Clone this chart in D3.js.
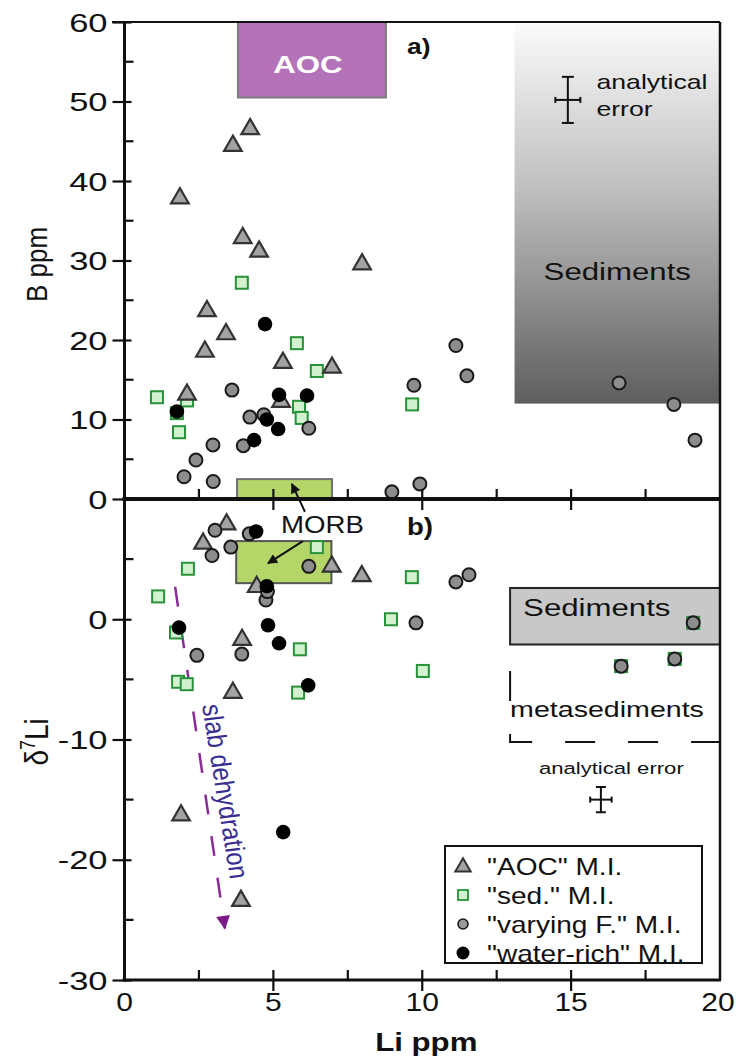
<!DOCTYPE html>
<html>
<head>
<meta charset="utf-8">
<script src="https://cdn.jsdelivr.net/npm/d3@7"></script>
<style>
  body { margin: 0; background: #fff; }
  svg { display: block; font-family: "Liberation Sans", Arial, sans-serif; }
</style>
</head>
<body>
<svg id="chart"></svg>
<script>
// Li vs B (a) and Li vs d7Li (b) for melt inclusions

// panel a: [Li ppm, B ppm]
const aocB = [[4.22,46.7],[3.64,44.6],[1.86,38.0],[3.97,33.0],[4.52,31.3],[7.98,29.7],[2.77,23.8],
  [3.41,20.9],[2.70,18.7],[5.32,17.3],[6.97,16.7],[2.10,13.3],[5.26,12.4]];
const sedB = [[3.94,27.2],[5.79,19.6],[6.46,16.1],[1.09,12.8],[2.10,12.4],[1.76,10.8],[1.83,8.4],
  [5.86,11.6],[5.95,10.2],[9.66,11.9]];
const varB = [[3.61,13.7],[4.21,10.3],[4.68,10.6],[6.19,8.9],[2.97,6.8],[3.99,6.7],[2.40,4.9],
  [2.00,2.8],[2.98,2.2],[11.13,19.3],[11.50,15.5],[9.72,14.3],[16.61,14.6],[18.45,11.9],
  [19.16,7.4],[8.98,0.9],[9.92,1.9]];
const waterB = [[4.72,22.0],[5.19,13.1],[6.13,13.0],[1.76,11.0],[4.78,10.0],[5.16,8.8],[4.35,7.4]];

// panel b: [Li ppm, d7Li]
const aocD = [[3.43,8.0],[2.64,6.4],[6.96,4.5],[4.44,2.8],[3.95,-1.6],[3.64,-6.0],[7.97,3.7],
  [1.90,-16.2],[3.91,-23.3]];
const sedD = [[6.46,6.0],[2.13,4.2],[1.13,1.9],[1.73,-1.1],[5.89,-2.5],[1.80,-5.2],[2.09,-5.4],
  [5.83,-6.1],[9.65,3.5],[8.95,0.0],[10.02,-4.3],[18.48,-3.3],[19.10,-0.3],[16.68,-3.9]];
const varD = [[3.04,7.4],[2.94,5.3],[3.57,6.0],[4.19,7.1],[6.19,4.4],[4.75,1.6],[4.80,2.3],
  [2.43,-3.0],[3.94,-2.9],[11.13,3.1],[11.57,3.7],[9.79,-0.3],[16.68,-3.9],[18.48,-3.3],[19.10,-0.3]];
const waterD = [[4.42,7.3],[4.78,2.75],[1.83,-0.7],[4.82,-0.5],[5.19,-2.0],[6.17,-5.5],[5.33,-17.7]];

// reference fields: [Li min, Li max, y min, y max]
const aocField = [3.81, 8.78, 50.5, 60];
const sedFieldB = [13.1, 20, 12, 60];
const morbFieldB = [3.78, 6.97, 0, 2.5];
const morbFieldD = [3.75, 6.95, 3, 6.5];
const sedFieldD = [12.95, 20, -2.1, 2.6];
const metaSedD = [12.95, 20, -10.2, -4.3];

// slab dehydration trend [Li, d7Li]
const slabTrend = [[1.70, 2.7], [3.37, -25.7]];

// analytical error: [Li, y, dLi, dy]
const errB = [14.89, 50.2, 0.42, 2.9];
const errD = [16.0, -15.0, 0.36, 1.05];

const xTicks = [0, 5, 10, 15, 20];
const xMinor = [2.5, 7.5, 12.5, 17.5];
const bTicks = [0, 10, 20, 30, 40, 50, 60];
const bMinor = [5, 15, 25, 35, 45, 55];
const dTicks = [-30, -20, -10, 0];
const dMinor = [-25, -15, -5, 5];
const legendLabels = ['"AOC" M.I.', '"sed." M.I.', '"varying F." M.I.', '"water-rich" M.I.'];

const width = 736, height = 1061;
const SX = 1.3; // the figure's lettering is wider than the fonts we have

const svg = d3.select('#chart').attr('width', width).attr('height', height);

const x = d3.scaleLinear().domain([0, 20]).range([124.5, 720]);
const yB = d3.scaleLinear().domain([0, 60]).range([499, 22]);
const yD = d3.scaleLinear().domain([-30, 10]).range([980, 499]);

function label(g, px, py, s, size, o = {}) {
  return g.append('text')
    .attr('transform', `translate(${px},${py}) scale(${o.sx || SX},1)` + (o.rot ? ` rotate(${o.rot})` : ''))
    .attr('text-anchor', o.anchor || 'start')
    .style('font-size', size + 'px')
    .style('font-weight', o.bold ? 'bold' : 'normal')
    .style('fill', o.fill || '#111')
    .text(s);
}

const defs = svg.append('defs');
const grad = defs.append('linearGradient').attr('id', 'sedGrad')
  .attr('x1', 0).attr('y1', 0).attr('x2', 0).attr('y2', 1);
grad.append('stop').attr('offset', '0%').attr('stop-color', '#fbfbfb');
grad.append('stop').attr('offset', '45%').attr('stop-color', '#bdbdbd');
grad.append('stop').attr('offset', '100%').attr('stop-color', '#5e5e5e');

defs.append('marker').attr('id', 'arrowBlack')
  .attr('viewBox', '0 0 10 10').attr('refX', 9).attr('refY', 5)
  .attr('markerWidth', 6).attr('markerHeight', 5).attr('orient', 'auto')
  .attr('markerUnits', 'strokeWidth')
  .append('path').attr('d', 'M0,0 L10,5 L0,10 Z').attr('fill', '#111');

defs.append('marker').attr('id', 'arrowPurple')
  .attr('viewBox', '0 0 10 10').attr('refX', 9).attr('refY', 5)
  .attr('markerWidth', 6).attr('markerHeight', 5.5).attr('orient', 'auto')
  .attr('markerUnits', 'strokeWidth')
  .append('path').attr('d', 'M0,0 L10,5 L0,10 Z').attr('fill', '#7b1a86');

function field(g, f, yS, fill, stroke) {
  return g.append('rect')
    .attr('x', x(f[0])).attr('y', yS(f[3]))
    .attr('width', x(f[1]) - x(f[0])).attr('height', yS(f[2]) - yS(f[3]))
    .style('fill', fill).style('stroke', stroke || 'none').style('stroke-width', 2);
}

const plot = svg.append('g');

// ---- panel a fields
field(plot, sedFieldB, yB, 'url(#sedGrad)');
field(plot, aocField, yB, '#b473b8', '#7d7d7d');
field(plot, morbFieldB, yB, '#b4d568', '#6f6f6f');
label(plot, (x(aocField[0]) + x(aocField[1])) / 2 - 4, yB(53.6), 'AOC', 24, { anchor: 'middle', bold: true, fill: '#fff' });
label(plot, x(16.55), yB(27.5), 'Sediments', 24, { anchor: 'middle' });

// ---- panel b fields
field(plot, morbFieldD, yD, '#b4d568', '#555');
field(plot, sedFieldD, yD, '#c8c8c8', '#222');
label(plot, x(sedFieldD[0]) + 13, yD(0.3), 'Sediments', 24);
plot.append('path')
  .attr('d', `M${x(metaSedD[0])},${yD(metaSedD[3])} L${x(metaSedD[0])},${yD(metaSedD[2])} L${x(metaSedD[1])},${yD(metaSedD[2])}`)
  .style('fill', 'none').style('stroke', '#111').style('stroke-width', 2)
  .style('stroke-dasharray', '30,33');
label(plot, x(metaSedD[0]), yD(-8.1), 'metasediments', 22);

// slab dehydration trend
plot.append('line')
  .attr('x1', x(slabTrend[0][0])).attr('y1', yD(slabTrend[0][1]))
  .attr('x2', x(slabTrend[1][0])).attr('y2', yD(slabTrend[1][1]))
  .style('stroke', '#8a2b98').style('stroke-width', 2.5)
  .style('stroke-dasharray', '20,22')
  .attr('marker-end', 'url(#arrowPurple)');
label(plot, 216, yD(-14.4), 'slab dehydration', 24, { rot: 82, anchor: 'middle', fill: '#3a2d92', sx: 1.15 });

// analytical errors
function errorBar(g, e, yS, cap) {
  const cx = x(e[0]), cy = yS(e[1]);
  const hx = x(e[0] + e[2]) - cx, hy = yS(e[1] - e[3]) - cy;
  g.append('line').attr('x1', cx).attr('x2', cx).attr('y1', cy - hy).attr('y2', cy + hy);
  g.append('line').attr('x1', cx - hx).attr('x2', cx + hx).attr('y1', cy).attr('y2', cy);
  g.append('line').attr('x1', cx - cap).attr('x2', cx + cap).attr('y1', cy - hy).attr('y2', cy - hy);
  g.append('line').attr('x1', cx - cap).attr('x2', cx + cap).attr('y1', cy + hy).attr('y2', cy + hy);
  g.append('line').attr('x1', cx - hx).attr('x2', cx - hx).attr('y1', cy - 3).attr('y2', cy + 3);
  g.append('line').attr('x1', cx + hx).attr('x2', cx + hx).attr('y1', cy - 3).attr('y2', cy + 3);
  g.selectAll('line').style('stroke', '#111').style('stroke-width', 2);
}
errorBar(plot.append('g'), errB, yB, 6);
errorBar(plot.append('g'), errD, yD, 5);
label(plot, x(15.85), yB(51.6), 'analytical', 20.5);
label(plot, x(15.85), yB(48.2), 'error', 20.5);
label(plot, x(16.35), yD(-12.9), 'analytical error', 17, { anchor: 'middle' });

// ---- markers
const TRI = 16, SQ = 12, R = 6.5;
const triPath = s => `M0,${-s * 0.55} L${s * 0.55},${s * 0.4} L${-s * 0.55},${s * 0.4} Z`;

function drawSeries(g, yS, sed, aoc, vary, water) {
  g.selectAll('.sq').data(sed).enter().append('rect').attr('class', 'sq')
    .attr('x', d => x(d[0]) - SQ / 2).attr('y', d => yS(d[1]) - SQ / 2)
    .attr('width', SQ).attr('height', SQ)
    .style('fill', '#d2f2cf').style('stroke', '#27923a').style('stroke-width', 2);
  g.selectAll('.tri').data(aoc).enter().append('path').attr('class', 'tri')
    .attr('d', triPath(TRI))
    .attr('transform', d => `translate(${x(d[0])},${yS(d[1])})`)
    .style('fill', '#a3a3a3').style('stroke', '#333').style('stroke-width', 2.2);
  g.selectAll('.vc').data(vary).enter().append('circle').attr('class', 'vc')
    .attr('cx', d => x(d[0])).attr('cy', d => yS(d[1])).attr('r', R)
    .style('fill', '#8d8d8d').style('stroke', '#1a1a1a').style('stroke-width', 2);
  g.selectAll('.wc').data(water).enter().append('circle').attr('class', 'wc')
    .attr('cx', d => x(d[0])).attr('cy', d => yS(d[1])).attr('r', R + 0.8)
    .style('fill', '#000');
}
drawSeries(plot.append('g'), yB, sedB, aocB, varB, waterB);
drawSeries(plot.append('g'), yD, sedD, aocD, varD, waterD);

// MORB label with arrows
label(plot, x(6.65), yD(7.2), 'MORB', 24, { anchor: 'middle', sx: 1.15 });
plot.append('line')
  .attr('x1', x(6.06)).attr('y1', yB(-1.6)).attr('x2', x(5.62)).attr('y2', yB(1.9))
  .style('stroke', '#111').style('stroke-width', 2).attr('marker-end', 'url(#arrowBlack)');
plot.append('line')
  .attr('x1', x(5.99)).attr('y1', yD(6.5)).attr('x2', x(4.82)).attr('y2', yD(4.65))
  .style('stroke', '#111').style('stroke-width', 2).attr('marker-end', 'url(#arrowBlack)');

label(plot, 407, yB(56.0), 'a)', 22, { bold: true, sx: 1.2 });
label(plot, 407, yD(7.0), 'b)', 23, { bold: true, sx: 1.2 });

// ---- frame and axes
const axes = svg.append('g').style('stroke', '#111');
axes.append('line').attr('x1', 112).attr('x2', x(20)).attr('y1', yB(60)).attr('y2', yB(60)).style('stroke-width', 2);
axes.append('line').attr('x1', x(20)).attr('x2', x(20)).attr('y1', yB(60)).attr('y2', yD(-30)).style('stroke-width', 2.5);
axes.append('line').attr('x1', x(0)).attr('x2', x(0)).attr('y1', yB(60)).attr('y2', yD(-30) + 1.5).style('stroke-width', 3);
axes.append('line').attr('x1', x(0) - 2).attr('x2', x(20)).attr('y1', yB(0)).attr('y2', yB(0)).style('stroke-width', 4);
axes.append('line').attr('x1', x(0) - 2).attr('x2', x(20) + 1).attr('y1', yD(-30)).attr('y2', yD(-30)).style('stroke-width', 3);

function yAxis(yS, major, minor) {
  const g = svg.append('g').attr('transform', `translate(${x(0)},0)`)
    .call(d3.axisLeft(yS).tickValues(major).tickSize(12).tickPadding(0).tickFormat(d => String(d)));
  g.select('.domain').remove();
  g.selectAll('.tick line').style('stroke', '#111').style('stroke-width', 2.2).attr('x2', -12).attr('x1', 7);
  g.selectAll('.tick text')
    .attr('x', -17 / 1.38).attr('dy', '0.36em')
    .attr('transform', 'scale(1.38,1)')
    .style('font-size', '25px').style('fill', '#111');
  g.selectAll('.minor').data(minor).enter().append('line').attr('class', 'minor')
    .attr('x1', 0).attr('x2', 9).attr('y1', d => yS(d)).attr('y2', d => yS(d))
    .style('stroke', '#111').style('stroke-width', 2.2);
}
yAxis(yB, bTicks, bMinor);
yAxis(yD, dTicks, dMinor);

function xTickMarks(yPos, majors, minors, showLabels) {
  const g = svg.append('g').attr('transform', `translate(0,${yPos})`);
  g.selectAll('.mj').data(majors).enter().append('line')
    .attr('x1', d => x(d)).attr('x2', d => x(d)).attr('y1', -10).attr('y2', 11)
    .style('stroke', '#111').style('stroke-width', 2.2);
  g.selectAll('.mn').data(minors).enter().append('line')
    .attr('x1', d => x(d)).attr('x2', d => x(d)).attr('y1', -10).attr('y2', 0)
    .style('stroke', '#111').style('stroke-width', 2.2);
  if (showLabels) {
    // the last label sits against the page edge, so keep it inside
    g.selectAll('.lb').data(xTicks).enter().append('text')
      .attr('transform', d => `translate(${Math.min(x(d), width - 18)},31) scale(1.2,1)`)
      .attr('text-anchor', 'middle').style('font-size', '25px').style('fill', '#111')
      .text(d => d);
  }
}
xTickMarks(yB(0), [5, 10, 15], xMinor, false);
xTickMarks(yD(-30), [5, 10, 15], xMinor, true);

// axis titles
label(svg, 47, (yB(60) + yB(0)) / 2 + 4, 'B ppm', 26, { rot: -90, anchor: 'middle', sx: 1.15 });
const dl = svg.append('text')
  .attr('transform', `translate(48,${yD(-10.2)}) scale(1.2,1) rotate(-90)`)
  .attr('text-anchor', 'middle').style('font-size', '28px').style('fill', '#111');
dl.append('tspan').text('δ');
dl.append('tspan').attr('dy', -11).style('font-size', '18px').text('7');
dl.append('tspan').attr('dy', 11).text('Li');
label(svg, x(10) + 4, 1051, 'Li ppm', 26, { anchor: 'middle', bold: true, sx: 1.2 });

// ---- legend
const lg = svg.append('g').attr('transform', 'translate(445,846)');
lg.append('rect').attr('width', 257).attr('height', 117)
  .style('fill', '#fff').style('stroke', '#111').style('stroke-width', 2);
const rowY = i => 20 + i * 29;
lg.append('path').attr('d', triPath(14)).attr('transform', `translate(18,${rowY(0)})`)
  .style('fill', '#a3a3a3').style('stroke', '#333').style('stroke-width', 2);
lg.append('rect').attr('x', 13).attr('y', rowY(1) - 5).attr('width', 10).attr('height', 10)
  .style('fill', '#d2f2cf').style('stroke', '#27923a').style('stroke-width', 1.8);
lg.append('circle').attr('cx', 18).attr('cy', rowY(2)).attr('r', 5)
  .style('fill', '#9a9a9a').style('stroke', '#1a1a1a').style('stroke-width', 1.6);
lg.append('circle').attr('cx', 18).attr('cy', rowY(3)).attr('r', 6.5).style('fill', '#000');
legendLabels.forEach((t, i) => label(lg, 42, rowY(i) + 8.5, t, 23, { sx: 1.22 }));
</script>
</body>
</html>
